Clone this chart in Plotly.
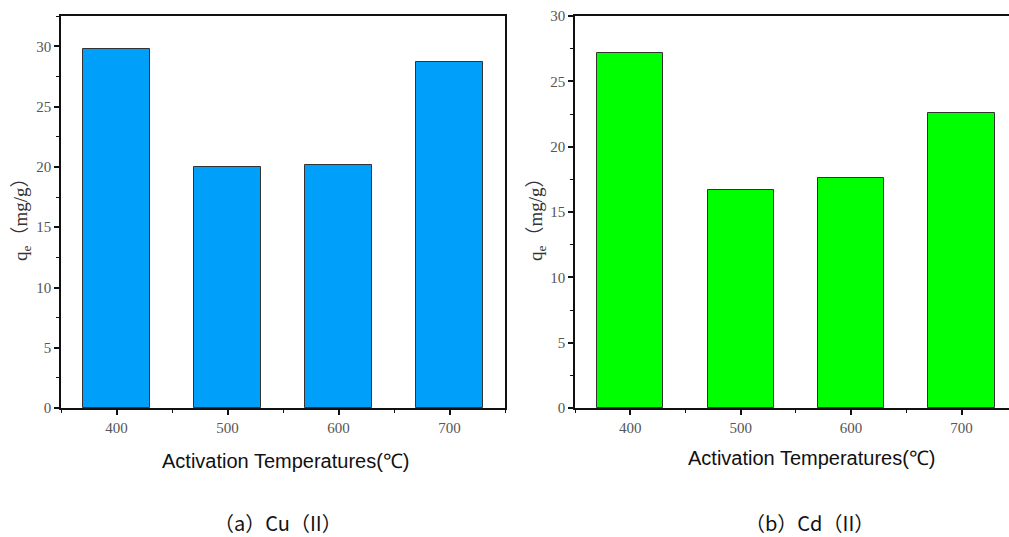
import plotly.graph_objects as go

temps = [400, 500, 600, 700]
cu_qe = [29.8, 20.0, 20.2, 28.7]
cd_qe = [27.2, 16.7, 17.6, 22.6]
tick_vals_x = [400, 500, 600, 700]
tick_vals_y = [0, 5, 10, 15, 20, 25, 30]

W, H = 1009, 537
fig = go.Figure()
fig.add_trace(go.Bar(x=temps, y=cu_qe, width=60, marker=dict(color="#00A0FA", line=dict(color="#333333", width=1)),
                     xaxis="x", yaxis="y", showlegend=False))
fig.add_trace(go.Bar(x=temps, y=cd_qe, width=60, marker=dict(color="#00FF00", line=dict(color="#333333", width=1)),
                     xaxis="x2", yaxis="y2", showlegend=False))

tickfont = dict(family="Liberation Serif, DejaVu Serif, serif", size=15, color="#555555")
ydom = [1 - 408 / H, 1 - 16 / H]

def xax(domain, anchor, rng):
    return dict(domain=domain, anchor=anchor, range=rng, tickvals=tick_vals_x, ticks="outside", ticklen=5,
                tickwidth=1.5, tickcolor="#111", showline=True, linecolor="#111", linewidth=1.5, mirror=True,
                showgrid=False, zeroline=False, tickfont=tickfont, automargin=False,
                minor=dict(dtick=50, tick0=350, ticks="outside", ticklen=3, tickcolor="#111", tickwidth=1.2))

def yax(domain, anchor, rng, mirror):
    return dict(domain=domain, anchor=anchor, range=rng, tickvals=tick_vals_y, ticks="outside", ticklen=5,
                tickwidth=1.5, tickcolor="#111", showline=True, linecolor="#111", linewidth=1.5, mirror=mirror,
                showgrid=False, zeroline=False, tickfont=tickfont, automargin=False,
                minor=dict(dtick=2.5, tick0=0, ticks="outside", ticklen=3, tickcolor="#111", tickwidth=1.2))

fig.update_layout(
    width=W, height=H, margin=dict(l=0, r=0, t=0, b=0, autoexpand=False),
    plot_bgcolor="white", paper_bgcolor="white",
    xaxis=xax([61 / W, 505 / W], "y", [350, 750]),
    yaxis=yax(ydom, "x", [0, 32.53], True),
    xaxis2=xax([575 / W, 1.0], "y2", [350, 743]),
    yaxis2=yax(ydom, "x2", [0, 30], False),
    bargap=0,
)

titlefont = dict(family="Liberation Sans, Arial, sans-serif", size=20, color="#111")
capfont = dict(family="Noto Sans CJK SC, sans-serif", size=20, color="#111")
yfont = dict(family="Liberation Serif, Noto Sans CJK SC, serif", size=19, color="#333")
ann = [
    dict(text="Activation Temperatures(℃)", x=286 / W, y=1 - 461 / H, font=titlefont),
    dict(text="Activation Temperatures(℃)", x=812 / W, y=1 - 458 / H, font=titlefont),
    dict(text="（a）Cu（II）", x=278 / W, y=1 - 522 / H, font=capfont),
    dict(text="（b）Cd（II）", x=809 / W, y=1 - 522 / H, font=capfont),
    dict(text="q<sub>e</sub>（mg/g）", x=22 / W, y=1 - 215 / H, font=yfont, textangle=-90),
    dict(text="q<sub>e</sub>（mg/g）", x=537 / W, y=1 - 215 / H, font=yfont, textangle=-90),
]
for a in ann:
    a.update(xref="paper", yref="paper", showarrow=False, xanchor="center", yanchor="middle")
fig.update_layout(annotations=ann)

fig.write_html("out.html")
